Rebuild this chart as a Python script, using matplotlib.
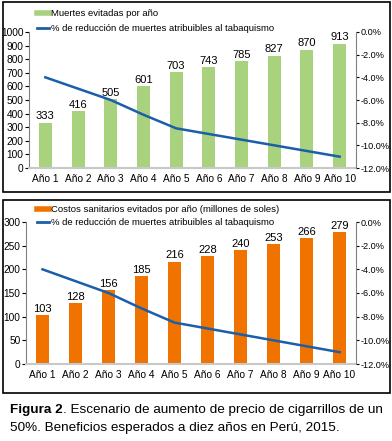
import matplotlib
matplotlib.use("Agg")
import matplotlib.pyplot as plt
from matplotlib.patches import Rectangle
from matplotlib.lines import Line2D
from matplotlib.ticker import FuncFormatter

plt.rcParams["font.family"] = ["Liberation Sans", "DejaVu Sans"]

# datos
anios = ["Año 1", "Año 2", "Año 3", "Año 4", "Año 5", "Año 6", "Año 7", "Año 8", "Año 9", "Año 10"]
muertes = [333, 416, 505, 601, 703, 743, 785, 827, 870, 913]
costos = [103, 128, 156, 185, 216, 228, 240, 253, 266, 279]
reduccion = [-4.0, -5.0, -6.0, -7.3, -8.5, -9.0, -9.5, -10.0, -10.5, -11.0]

verde = "#a9d27f"
naranja = "#f07300"
azul = "#1b5eaa"

fig = plt.figure(figsize=(3.92, 4.41), dpi=100)

# marcos de los paneles
for (x0, y0, x1, y1) in [(3, 2, 390, 192), (3, 200, 390, 393)]:
    fig.patches.append(Rectangle((x0 / 392, 1 - y1 / 441), (x1 - x0) / 392, (y1 - y0) / 441,
                                 transform=fig.transFigure, fill=False, ec="black", lw=1.2))


def panel(rect, valores, color, ymax, paso, etiqueta, leg_xy, esp):
    ax = fig.add_axes(rect)
    x = range(len(anios))
    ax.bar(x, valores, width=0.4, color=color, zorder=2)
    for xi, v in zip(x, valores):
        ax.text(xi, v + ymax * 0.01, str(v), ha="center", va="bottom", fontsize=8)
    ax.set_xlim(-0.5, len(anios) - 0.5)
    ax.set_ylim(0, ymax)
    ax.set_yticks(range(0, ymax + 1, paso))
    ax.set_xticks(list(x))
    ax.set_xticklabels(anios, fontsize=7.3)
    ax.tick_params(axis="x", length=0, pad=4)
    ax.tick_params(axis="y", labelsize=7.3, length=3, pad=1)
    ax.spines["top"].set_visible(False)
    ax.spines["right"].set_visible(False)
    ax.spines["bottom"].set_color("#c8c8c8")
    ax.spines["bottom"].set_linewidth(1.5)
    ax.spines["left"].set_color("#808080")

    ax2 = ax.twinx()
    ax2.plot(list(x), reduccion, color=azul, lw=1.8, zorder=3)
    ax2.set_ylim(-12, 0)
    ax2.set_yticks(range(-12, 1, 2))
    ax2.yaxis.set_major_formatter(FuncFormatter(lambda v, p: "%.1f%%" % v))
    ax2.tick_params(axis="y", labelsize=6.6, length=2.5, pad=0.5)
    ax2.spines["top"].set_visible(False)
    ax2.spines["left"].set_visible(False)
    ax2.spines["bottom"].set_visible(False)
    ax2.spines["right"].set_color("#808080")

    handles = [Line2D([], [], color=color, lw=4),
               Line2D([], [], color=azul, lw=2)]
    labels = [etiqueta, "% de reducción de muertes atribuibles al tabaquismo"]
    ax2.legend(handles, labels, loc="upper left", bbox_to_anchor=leg_xy,
               bbox_transform=fig.transFigure, frameon=False, fontsize=6.8,
               handlelength=1.3, handletextpad=0.15, labelspacing=esp,
               borderpad=0, borderaxespad=0)
    return ax


panel([29 / 392, 1 - 168 / 441, 327 / 392, 136 / 441], muertes, verde, 1000, 100,
      "Muertes evitadas por año", (37 / 392, 1 - 9 / 441), 0.65)
panel([26 / 392, 1 - 364 / 441, 330 / 392, 142 / 441], costos, naranja, 300, 50,
      "Costos sanitarios evitados por año (millones de soles)", (37 / 392, 1 - 205 / 441), 0.45)

# pie de figura
t = fig.text(10 / 392, 1 - 410 / 441, "Figura 2", fontsize=9.7, fontweight="bold",
             va="center")
fig.canvas.draw()
bb = t.get_window_extent(fig.canvas.get_renderer())
fig.text(bb.x1 / fig.bbox.width, 1 - 410 / 441,
         ". Escenario de aumento de precio de cigarrillos de un",
         fontsize=9.7, va="center")
fig.text(10 / 392, 1 - 428 / 441, "50%. Beneficios esperados a diez años en Perú, 2015.",
         fontsize=9.7, va="center")

fig.savefig("out.png", dpi=100)
